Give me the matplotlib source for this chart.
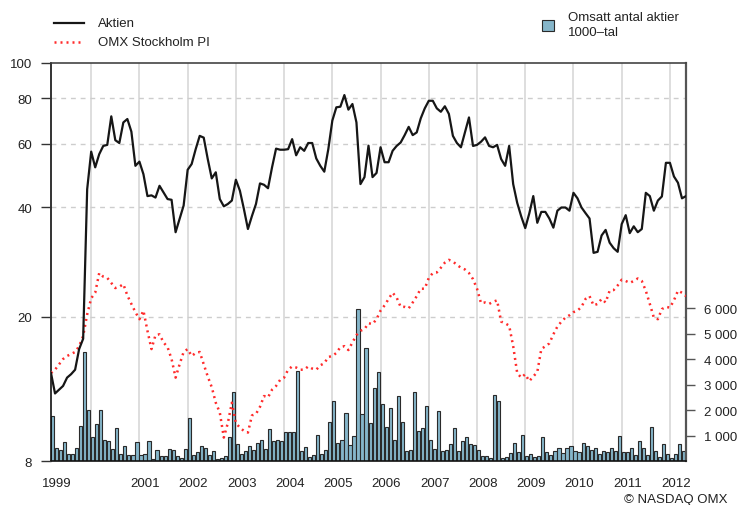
import numpy as np
import matplotlib
matplotlib.use("Agg")
import matplotlib.pyplot as plt
import matplotlib.transforms as mtransforms
from matplotlib.lines import Line2D
from matplotlib.patches import Rectangle

plt.rcParams['font.family'] = ['Liberation Sans', 'DejaVu Sans']

# ---- data (monthly, from March 1999) ----
start_year = 1999
start_month = 3
aktien = [14.0, 12.3, 12.6, 12.9, 13.6, 13.9, 14.3, 16.3, 17.4, 44.9,
          57.0, 51.6, 56.1, 59.1, 59.5, 71.3, 61.3, 60.2, 68.6, 70.1,
          64.7, 52.1, 53.5, 49.4, 43.0, 43.2, 42.6, 45.9, 44.0, 42.2,
          42.0, 34.2, 37.2, 40.5, 50.8, 52.7, 57.9, 63.0, 62.3, 54.4,
          48.1, 50.0, 42.2, 40.3, 40.9, 41.8, 47.7, 44.5, 39.6, 34.9,
          37.9, 40.9, 46.6, 46.2, 45.2, 51.6, 58.1, 57.7, 57.7, 57.9,
          61.7, 55.7, 58.6, 57.3, 60.2, 60.2, 54.6, 52.1, 50.2, 57.9,
          69.4, 75.5, 75.8, 81.6, 74.4, 77.1, 68.6, 46.4, 48.5, 59.2,
          48.5, 49.8, 58.6, 53.3, 53.3, 57.3, 59.1, 60.4, 63.3, 66.7,
          63.3, 64.4, 70.4, 75.0, 78.7, 78.7, 75.0, 73.4, 76.0, 72.4,
          63.0, 60.2, 58.6, 64.4, 70.8, 59.1, 59.5, 60.7, 62.4, 59.1,
          58.6, 59.5, 54.4, 52.1, 59.1, 46.4, 41.2, 37.8, 35.1, 38.5,
          43.0, 36.3, 38.9, 38.9, 37.3, 35.2, 39.2, 40.0, 40.0, 39.2,
          43.9, 42.4, 40.0, 38.6, 37.3, 30.0, 30.2, 33.5, 34.7, 32.0,
          30.9, 30.2, 36.0, 38.1, 34.0, 35.5, 34.2, 34.9, 43.9, 43.0,
          39.2, 41.8, 42.9, 53.1, 53.1, 48.7, 46.8, 42.4, 43.0]

omx = [14.0, 14.3, 14.8, 15.3, 15.6, 15.8, 16.0, 16.6, 17.7, 20.3,
       22.5, 23.3, 26.4, 25.8, 25.6, 24.8, 24.0, 24.2, 24.6, 22.9,
       21.7, 20.6, 19.7, 20.8, 18.3, 16.3, 17.8, 17.9, 17.0, 16.5,
       15.3, 13.6, 14.8, 16.0, 16.3, 15.6, 15.9, 16.0, 14.8, 13.7,
       12.8, 11.6, 10.9, 9.3, 10.2, 11.6, 10.2, 9.9, 9.7, 9.6,
       10.7, 10.8, 11.3, 12.1, 12.0, 12.6, 12.9, 13.4, 13.6, 14.3,
       14.6, 14.5, 14.3, 14.3, 14.6, 14.4, 14.3, 14.7, 14.9, 15.5,
       15.6, 15.9, 16.5, 16.6, 16.2, 17.0, 17.8, 18.3, 18.5, 19.2,
       19.1, 19.7, 20.8, 21.5, 22.4, 23.3, 22.6, 21.3, 21.3, 21.1,
       21.9, 22.8, 23.9, 23.9, 25.6, 26.4, 26.5, 27.3, 28.2, 28.7,
       28.4, 27.8, 27.3, 27.0, 26.4, 25.4, 23.9, 21.8, 21.9, 21.7,
       22.0, 22.2, 19.4, 19.2, 18.9, 16.6, 14.0, 13.6, 13.9, 13.3,
       13.7, 14.1, 16.3, 16.6, 16.9, 17.9, 18.8, 19.4, 19.9, 20.2,
       20.6, 20.8, 21.3, 22.4, 22.8, 21.5, 21.7, 22.4, 21.9, 23.6,
       23.7, 24.4, 25.3, 25.1, 24.8, 25.1, 25.5, 25.1, 23.6, 21.7,
       19.9, 19.7, 21.0, 21.3, 21.2, 22.2, 23.6, 23.3, 22.8]

volym = [1790, 510, 430, 740, 300, 300, 510, 1390, 4270, 2000,
         950, 1470, 2000, 820, 800, 480, 1320, 270, 610, 250,
         250, 740, 250, 300, 810, 90, 430, 220, 220, 470,
         440, 200, 120, 470, 1710, 260, 350, 610, 530, 230,
         420, 90, 120, 220, 950, 2720, 680, 290, 400, 590,
         430, 720, 820, 480, 1250, 810, 850, 780, 1140, 1160,
         1130, 3550, 390, 550, 160, 260, 1030, 300, 430, 1550,
         2360, 700, 850, 1880, 630, 1000, 5950, 1870, 4420, 1490,
         2860, 3500, 2230, 1330, 2090, 850, 2560, 1520, 400, 450,
         2710, 1170, 1290, 2170, 850, 490, 1980, 400, 430, 680,
         1300, 400, 800, 940, 660, 650, 440, 200, 220, 130,
         2580, 2350, 120, 160, 330, 700, 380, 1040, 220, 300,
         160, 200, 960, 360, 250, 400, 520, 330, 540, 610,
         400, 360, 720, 610, 430, 540, 270, 400, 360, 510,
         400, 980, 360, 380, 540, 230, 800, 510, 230, 1330,
         410, 160, 660, 300, 120, 290, 690, 410]

left_ticks = [8, 20, 40, 60, 80, 100]
right_ticks = [1000, 2000, 3000, 4000, 5000, 6000]
year_labels = [1999, 2001, 2002, 2003, 2004, 2005, 2006, 2007, 2008, 2009, 2010, 2011, 2012]
grid_years = list(range(2000, 2013))

# ---- figure ----
W, H = 740, 506
fig = plt.figure(figsize=(W / 100, H / 100), dpi=100)
L, R, T, B = 51, 686, 64, 462.3
ax = fig.add_axes([L / W, 1 - B / H, (R - L) / W, (B - T) / H])
ax2 = ax.twinx()

x = start_year + (start_month - 1 + np.arange(len(aktien))) / 12.0
xb = x[:len(volym)]

ax.set_xlim(x[0], x[-1])
ax.set_ylim(0, 15600)
ax2.set_yscale('log')
ax2.set_ylim(8, 100)

txtc = '#222222'
# grids (behind bars)
for yr in grid_years:
    ax.axvline(yr, color='#d8d8d8', lw=1.2, zorder=0)
blend = mtransforms.blended_transform_factory(ax.transAxes, ax2.transData)
for v in left_ticks[1:-1]:
    ax.plot([0, 1], [v, v], transform=blend, color='#cdcdcd', lw=1.0,
            ls=(0, (3.5, 3.5)), zorder=0.5)

# bars
ax.bar(xb, volym, width=0.78 / 12, align='edge', color='#86b6ca',
       edgecolor='#2a2a2a', linewidth=0.8, zorder=2)

# lines
ax2.plot(x, omx, color='#ff2b2b', lw=1.8, ls=(0, (0.8, 1.6)), zorder=3)
ax2.plot(x, aktien, color='#161616', lw=1.6, zorder=4)

# axes styling
for s in ax2.spines.values():
    s.set_visible(False)
ax.spines['left'].set_color('#111111')
ax.spines['bottom'].set_color('#111111')
ax.spines['top'].set_color('#444444')
ax.spines['right'].set_color('#555555')
for s in ax.spines.values():
    s.set_linewidth(1.2)
ax.spines['right'].set_linewidth(1.6)

ax2.yaxis.tick_left()
ax2.set_yticks(left_ticks)
ax2.set_yticklabels([str(v) for v in left_ticks])
ax2.yaxis.set_minor_locator(matplotlib.ticker.NullLocator())
ax2.tick_params(axis='y', which='major', direction='out', length=7.2, width=1.0,
                color='#333333', pad=6.5, labelsize=9.5, labelcolor=txtc)

ax.yaxis.tick_right()
ax.set_yticks(right_ticks)
ax.set_yticklabels([f"{v:,}".replace(',', ' ') for v in right_ticks])
ax.tick_params(axis='y', direction='out', length=6.5, width=1.0, color='#555555',
               pad=6.5, labelsize=9.5, labelcolor=txtc)

xpos = [x[0] + 0.12 if yr == 1999 else yr + 0.12 for yr in year_labels]
ax.set_xticks(xpos)
ax.set_xticklabels([str(y) for y in year_labels])
ax.tick_params(axis='x', length=0, pad=11.5, labelsize=9.5, labelcolor=txtc)

# legend (left)
fig.add_artist(Line2D([54 / W, 84 / W], [1 - 24 / H] * 2, color='#161616', lw=1.6))
fig.add_artist(Line2D([54 / W, 84 / W], [1 - 43 / H] * 2, color='#ff2b2b', lw=1.8,
                      ls=(0, (0.8, 1.6))))
fig.text(98 / W, 1 - 24 / H, 'Aktien', va='center', ha='left', fontsize=9.5, color=txtc)
fig.text(98 / W, 1 - 43 / H, 'OMX Stockholm PI', va='center', ha='left', fontsize=9.5, color=txtc)
# legend (right)
fig.add_artist(Rectangle((542 / W, 1 - 32 / H), 12 / W, 11 / H, transform=fig.transFigure,
                         facecolor='#86b6ca', edgecolor='#2a2a2a', lw=0.8))
fig.text(568 / W, 1 - 18 / H, 'Omsatt antal aktier', va='center', ha='left', fontsize=9.5, color=txtc)
fig.text(568 / W, 1 - 33 / H, '1000\u2013tal', va='center', ha='left', fontsize=9.5, color=txtc)

fig.text(728 / W, 1 - 500 / H, '\u00a9 NASDAQ OMX', va='center', ha='right', fontsize=9.5, color=txtc)

fig.savefig('out.png', dpi=100)
